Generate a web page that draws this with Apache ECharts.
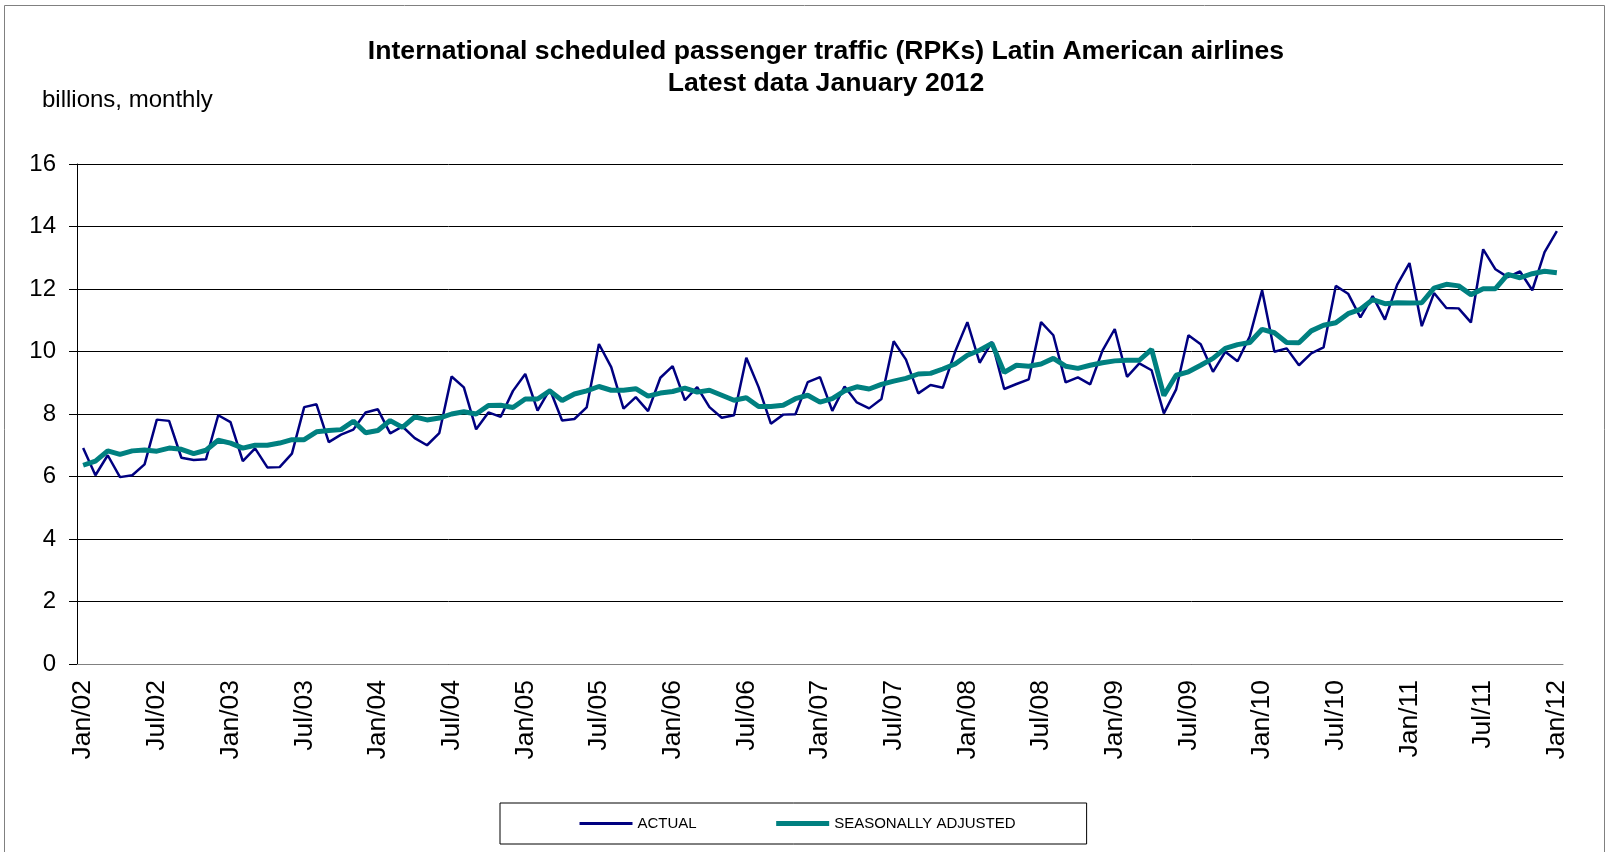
<!DOCTYPE html>
<html>
<head>
<meta charset="utf-8">
<title>RPKs Latin American airlines</title>
<script src="https://cdn.jsdelivr.net/npm/echarts@6/dist/echarts.min.js"></script>
<style>
  html, body { margin: 0; padding: 0; background: #fff; }
  #chart { width: 1610px; height: 852px; }
</style>
</head>
<body>
<div id="chart"></div>
<script>
// month labels Jan/02 .. Jan/12
const monthNames = ["Jan", "Feb", "Mar", "Apr", "May", "Jun", "Jul", "Aug", "Sep", "Oct", "Nov", "Dec"];
const years = ["02", "03", "04", "05", "06", "07", "08", "09", "10", "11", "12"];

// billions of RPKs, monthly
const actual = [
  6.91, 6.04, 6.68, 5.98, 6.04, 6.39, 7.82, 7.78, 6.60, 6.53, 6.55, 7.96,
  7.74, 6.49, 6.90, 6.29, 6.30, 6.73, 8.22, 8.31, 7.10, 7.34, 7.50, 8.05,
  8.15, 7.38, 7.60, 7.23, 7.00, 7.39, 9.20, 8.85, 7.51, 8.05, 7.91, 8.74,
  9.28, 8.11, 8.79, 7.79, 7.84, 8.21, 10.24, 9.50, 8.17, 8.54, 8.09, 9.16,
  9.53, 8.44, 8.86, 8.22, 7.88, 7.96, 9.80, 8.86, 7.69, 7.98, 7.99, 9.02,
  9.18, 8.10, 8.88, 8.37, 8.18, 8.48, 10.33, 9.74, 8.66, 8.93, 8.84, 9.99,
  10.94, 9.64, 10.31, 8.80, 8.96, 9.11, 10.94, 10.52, 9.01, 9.17, 8.95, 10.03,
  10.72, 9.19, 9.62, 9.40, 8.02, 8.79, 10.52, 10.23, 9.35, 9.99, 9.69, 10.49,
  11.96, 9.99, 10.10, 9.56, 9.94, 10.13, 12.10, 11.85, 11.09, 11.77, 11.02, 12.14,
  12.83, 10.81, 11.87, 11.39, 11.38, 10.93, 13.27, 12.63, 12.38, 12.56, 11.96, 13.18,
  13.85
];
const seasonallyAdjusted = [
  6.36, 6.49, 6.82, 6.71, 6.82, 6.85, 6.81, 6.91, 6.87, 6.73, 6.84, 7.16,
  7.07, 6.91, 7.00, 7.00, 7.07, 7.18, 7.18, 7.43, 7.47, 7.50, 7.77, 7.40,
  7.47, 7.79, 7.57, 7.91, 7.81, 7.87, 8.00, 8.07, 8.00, 8.27, 8.28, 8.21,
  8.48, 8.48, 8.74, 8.43, 8.64, 8.74, 8.88, 8.76, 8.76, 8.81, 8.57, 8.67,
  8.72, 8.83, 8.70, 8.76, 8.60, 8.44, 8.52, 8.24, 8.24, 8.28, 8.49, 8.60,
  8.38, 8.49, 8.74, 8.87, 8.80, 8.95, 9.05, 9.14, 9.28, 9.30, 9.44, 9.60,
  9.88, 10.04, 10.26, 9.33, 9.56, 9.53, 9.60, 9.78, 9.53, 9.46, 9.56, 9.64,
  9.70, 9.72, 9.72, 10.07, 8.59, 9.24, 9.35, 9.56, 9.78, 10.10, 10.22, 10.29,
  10.71, 10.60, 10.29, 10.28, 10.66, 10.84, 10.92, 11.21, 11.35, 11.66, 11.53, 11.56,
  11.55, 11.56, 12.03, 12.15, 12.10, 11.82, 12.01, 12.01, 12.47, 12.36, 12.49, 12.57,
  12.52
];

const categories = [];
years.forEach(function (y) {
  monthNames.forEach(function (m) {
    if (categories.length < actual.length) categories.push(m + "/" + y);
  });
});

const font = "'Liberation Sans', Arial, sans-serif";
const chart = echarts.init(document.getElementById("chart"));

chart.setOption({
  animation: false,
  backgroundColor: "#fff",
  title: {
    text: "International scheduled passenger traffic (RPKs) Latin American airlines\nLatest data January 2012",
    left: 821,
    top: 31,
    textAlign: "center",
    textStyle: {
      fontFamily: font,
      fontSize: 26.6,
      fontWeight: "bold",
      color: "#000",
      lineHeight: 32,
    },
  },
  // outer frame + unit label
  graphic: [
    {
      type: "polyline",
      shape: { points: [[4.5, 900], [4.5, 5.5], [1604.5, 5.5], [1604.5, 900]] },
      style: { stroke: "#808080", lineWidth: 1, fill: null },
    },
    {
      type: "text",
      left: 42,
      top: 88,
      style: { text: "billions, monthly", font: "24px " + font, fill: "#000" },
    },
  ],
  legend: {
    left: 500,
    top: 803,
    padding: [13, 71, 13, 78],
    borderColor: "#000",
    borderWidth: 1,
    itemWidth: 53,
    itemHeight: 14,
    itemGap: 77,
    // hide the round marker, keep only the line sample
    itemStyle: { opacity: 0 },
    textStyle: { fontFamily: font, fontSize: 15, color: "#000" },
    data: [
      { name: "ACTUAL", lineStyle: { width: 3 } },
      { name: "SEASONALLY ADJUSTED", lineStyle: { width: 5 } },
    ],
  },
  grid: {
    left: 77,
    right: 47,
    top: 164,
    bottom: 188,
  },
  xAxis: {
    type: "category",
    data: categories,
    boundaryGap: true,
    axisLine: { lineStyle: { color: "#808080", width: 1 } },
    axisTick: {
      interval: 5,
      length: 8,
      lineStyle: { color: "#000" },
    },
    axisLabel: {
      interval: 5,
      rotate: 90,
      margin: 16,
      fontFamily: font,
      fontSize: 26.5,
      color: "#000",
    },
  },
  yAxis: {
    type: "value",
    min: 0,
    max: 16,
    interval: 2,
    axisLine: { show: true, lineStyle: { color: "#000", width: 1 } },
    axisTick: { show: true, length: 8, lineStyle: { color: "#000" } },
    axisLabel: {
      margin: 21,
      fontFamily: font,
      fontSize: 24,
      color: "#000",
    },
    splitLine: { lineStyle: { color: "#000", width: 1 } },
  },
  series: [
    {
      name: "ACTUAL",
      type: "line",
      data: actual,
      symbol: "none",
      lineStyle: { color: "#000080", width: 2.5 },
      itemStyle: { color: "#000080" },
    },
    {
      name: "SEASONALLY ADJUSTED",
      type: "line",
      data: seasonallyAdjusted,
      symbol: "none",
      lineStyle: { color: "#008080", width: 5 },
      itemStyle: { color: "#008080" },
    },
  ],
});
</script>
</body>
</html>
